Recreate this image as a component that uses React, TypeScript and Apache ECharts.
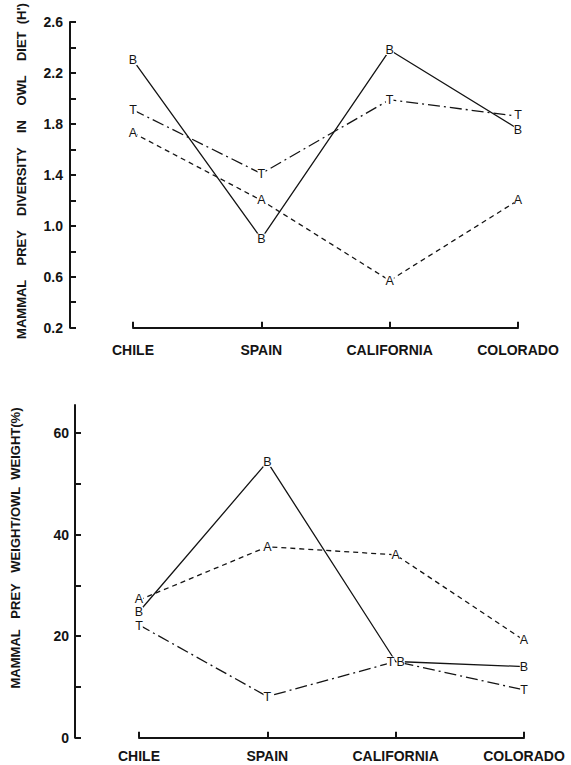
import { useEffect, useRef } from 'react';
import * as echarts from 'echarts';

const categories = ['CHILE', 'SPAIN', 'CALIFORNIA', 'COLORADO'];

// Top panel: mammal prey diversity (H')
const diversityB = [2.3, 0.9, 2.38, 1.76];
const diversityT = [1.91, 1.41, 1.99, 1.86];
const diversityA = [1.73, 1.2, 0.57, 1.2];
const diversityTicks = [0.2, 0.4, 0.6, 0.8, 1.0, 1.2, 1.4, 1.6, 1.8, 2.0, 2.2, 2.4, 2.6];
const diversityLabels = [0.2, 0.6, 1.0, 1.4, 1.8, 2.2, 2.6];

// Bottom panel: mammal prey weight / owl weight (%)
const weightB = [24.8, 54.3, 15.0, 14.0];
const weightA = [27.1, 37.6, 36.0, 19.2];
const weightT = [22.2, 8.1, 15.0, 9.4];
const weightTicks = [0, 10, 20, 30, 40, 50, 60];
const weightLabels = [0, 20, 40, 60];

const FONT = "'Liberation Sans', Arial, sans-serif";
const INK = '#141414';

function makeSeries(
  data: number[],
  letter: string,
  idx: number,
  lineType: any,
  offsets: Record<number, [number, number]> = {}
) {
  return {
    type: 'line',
    xAxisIndex: idx,
    yAxisIndex: idx,
    data: data.map((v, i) =>
      offsets[i] ? { value: v, label: { offset: offsets[i] } } : v
    ),
    symbol: 'circle',
    symbolSize: 1,
    itemStyle: { color: 'rgba(0,0,0,0)', borderWidth: 0 },
    lineStyle: { color: INK, width: 1.3, type: lineType },
    label: {
      show: true,
      position: 'inside',
      formatter: letter,
      color: INK,
      fontFamily: FONT,
      fontSize: 12.5,
      lineHeight: 10,
      backgroundColor: '#fff',
      padding: 0,
    },
    z: 3,
  };
}

function yAxis(gridIndex: number, min: number, max: number, ticks: number[], labels: number[], offset: number, margin: number, digits: number) {
  return {
    type: 'value',
    gridIndex,
    min,
    max,
    offset,
    splitLine: { show: false },
    axisLine: { show: true, lineStyle: { color: INK, width: 2 } },
    axisTick: { show: true, inside: true, length: 6, customValues: ticks, lineStyle: { color: INK, width: 2 } },
    axisLabel: {
      customValues: labels,
      formatter: (v: number) => v.toFixed(digits),
      color: INK,
      fontFamily: FONT,
      fontSize: 14,
      fontWeight: 'bold',
      margin,
    },
  };
}

function xAxis(gridIndex: number, margin: number) {
  return {
    type: 'category',
    gridIndex,
    data: categories,
    boundaryGap: false,
    axisLine: { show: true, lineStyle: { color: INK, width: 2 } },
    axisTick: { show: true, inside: true, length: 6, lineStyle: { color: INK, width: 2 } },
    axisLabel: { color: INK, fontFamily: FONT, fontSize: 14, fontWeight: 'bold', margin },
    splitLine: { show: false },
  };
}

export default function App() {
  const ref = useRef<HTMLDivElement>(null);
  useEffect(() => {
    const chart = echarts.init(ref.current!, null, { renderer: 'svg' });
    chart.setOption({
      animation: false,
      backgroundColor: '#fff',
      grid: [
        { left: 133, right: 53, top: 22, bottom: 765 - 327.7 },
        { left: 139, right: 47, top: 405, bottom: 765 - 737.7 },
      ],
      xAxis: [xAxis(0, 15), xAxis(1, 11)],
      yAxis: [
        yAxis(0, 0.2, 2.6, diversityTicks, diversityLabels, 63, 7, 1),
        yAxis(1, 0, 65.5, weightTicks, weightLabels, 64, 6, 0),
      ],
      series: [
        makeSeries(diversityB, 'B', 0, 'solid', { 3: [0, 1] }),
        makeSeries(diversityT, 'T', 0, [12, 4, 2, 4], { 3: [0, -1] }),
        makeSeries(diversityA, 'A', 0, [5, 4]),
        makeSeries(weightB, 'B', 1, 'solid', { 2: [5, 0] }),
        makeSeries(weightA, 'A', 1, [5, 4], { 0: [0, -1.5] }),
        makeSeries(weightT, 'T', 1, [12, 4, 2, 4], { 0: [0, 1], 2: [-5, 0] }),
      ],
      graphic: [
        {
          type: 'text',
          x: 21,
          y: 171,
          rotation: Math.PI / 2,
          style: {
            text: "MAMMAL    PREY    DIVERSITY    IN    OWL    DIET  (H')",
            fontFamily: FONT,
            fontSize: 13,
            fontWeight: 'bold',
            fill: INK,
            textAlign: 'center',
            textVerticalAlign: 'middle',
          },
        },
        {
          type: 'text',
          x: 15.5,
          y: 548,
          rotation: Math.PI / 2,
          style: {
            text: 'MAMMAL   PREY   WEIGHT/OWL  WEIGHT(%)',
            fontFamily: FONT,
            fontSize: 13,
            fontWeight: 'bold',
            fill: INK,
            textAlign: 'center',
            textVerticalAlign: 'middle',
          },
        },
      ],
    });
    return () => chart.dispose();
  }, []);
  return (
    <div
      ref={ref}
      style={{ position: 'absolute', left: 0, top: 0, width: 571, height: 765, background: '#fff' }}
    />
  );
}
